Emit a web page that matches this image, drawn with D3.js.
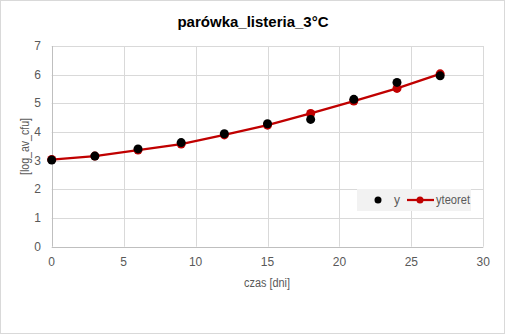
<!DOCTYPE html>
<html lang="en">
<head>
<meta charset="UTF-8">
<title>parówka_listeria_3°C</title>
<script src="https://d3js.org/d3.v7.min.js"></script>
<style>
  body { margin: 0; background: #fff; }
  .tick-label { font: 12px "Liberation Sans Narrow", "Arial Narrow", "Liberation Sans", sans-serif; fill: #595959; }
  .axis-title { font: 12px "Liberation Sans Narrow", "Arial Narrow", "Liberation Sans", sans-serif; fill: #595959; }
</style>
</head>
<body>
<script>
  // data
  const days = [0, 3, 6, 9, 12, 15, 18, 21, 24, 27];
  const yObs = [3.02, 3.16, 3.41, 3.63, 3.94, 4.29, 4.44, 5.14, 5.73, 5.96];
  const yTeoret = [3.04, 3.16, 3.37, 3.58, 3.90, 4.24, 4.65, 5.08, 5.52, 6.03];
  const xTicks = [0, 5, 10, 15, 20, 25, 30];
  const yTicks = [0, 1, 2, 3, 4, 5, 6, 7];

  const W = 505, H = 334;
  const svg = d3.select("body").append("svg")
    .attr("width", W).attr("height", H);

  // outer frame
  svg.append("rect")
    .attr("x", 0.5).attr("y", 0.5)
    .attr("width", W - 1).attr("height", H - 1)
    .attr("fill", "#fff").attr("stroke", "#d9d9d9");

  const x = d3.scaleLinear().domain([0, 30]).range([51.7, 483.3]);
  const y = d3.scaleLinear().domain([0, 7]).range([246.7, 46]);

  // title
  svg.append("text")
    .attr("x", 253).attr("y", 27)
    .attr("text-anchor", "middle")
    .style("font", "bold 15px 'Liberation Sans', Arial, sans-serif")
    .attr("fill", "#000")
    .text("parówka_listeria_3°C");

  // grid
  const grid = svg.append("g");
  grid.selectAll(".hg").data(yTicks).join("line")
    .attr("x1", x(0)).attr("x2", x(30))
    .attr("y1", d => Math.round(y(d)) + 0.5).attr("y2", d => Math.round(y(d)) + 0.5)
    .attr("stroke", d => d === 0 ? "#bfbfbf" : "#d9d9d9");
  grid.selectAll(".vg").data(xTicks).join("line")
    .attr("x1", d => Math.round(x(d)) + 0.5).attr("x2", d => Math.round(x(d)) + 0.5)
    .attr("y1", y(7)).attr("y2", y(0))
    .attr("stroke", d => d === 0 ? "#bfbfbf" : "#d9d9d9");

  // tick labels
  svg.selectAll(".yl").data(yTicks).join("text")
    .attr("class", "tick-label")
    .attr("x", 41).attr("y", d => y(d) + 4)
    .attr("text-anchor", "end")
    .text(d => d);
  svg.selectAll(".xl").data(xTicks).join("text")
    .attr("class", "tick-label")
    .attr("x", d => x(d)).attr("y", 266)
    .attr("text-anchor", "middle")
    .text(d => d);

  // axis titles
  svg.append("text").attr("class", "axis-title")
    .attr("x", 244).attr("y", 287)
    .attr("textLength", 46).attr("lengthAdjust", "spacingAndGlyphs")
    .text("czas  [dni]");
  svg.append("text").attr("class", "axis-title")
    .attr("transform", "translate(29,175) rotate(-90)")
    .attr("textLength", 57).attr("lengthAdjust", "spacingAndGlyphs")
    .text("[log_av_cfu]");

  // theoretical line
  const pts = days.map((d, i) => [d, yTeoret[i]]);
  svg.append("path")
    .datum(pts)
    .attr("fill", "none")
    .attr("stroke", "#c00000")
    .attr("stroke-width", 2.25)
    .attr("d", d3.line().x(d => x(d[0])).y(d => y(d[1])));
  svg.selectAll(".rt").data(pts).join("circle")
    .attr("cx", d => x(d[0])).attr("cy", d => y(d[1]))
    .attr("r", 4.5).attr("fill", "#c00000");

  // observed points
  svg.selectAll(".ob").data(days.map((d, i) => [d, yObs[i]])).join("circle")
    .attr("cx", d => x(d[0])).attr("cy", d => y(d[1]))
    .attr("r", 4.5).attr("fill", "#000");

  // legend
  const lg = svg.append("g");
  lg.append("rect")
    .attr("x", 357).attr("y", 189).attr("width", 114).attr("height", 22)
    .attr("fill", "#f2f2f2");
  lg.append("circle").attr("cx", 378).attr("cy", 200).attr("r", 3.5).attr("fill", "#000");
  lg.append("text").attr("class", "tick-label").attr("x", 394).attr("y", 204).text("y");
  lg.append("line").attr("x1", 407).attr("x2", 434).attr("y1", 200).attr("y2", 200)
    .attr("stroke", "#c00000").attr("stroke-width", 2.25);
  lg.append("circle").attr("cx", 420).attr("cy", 200).attr("r", 3.5).attr("fill", "#c00000");
  lg.append("text").attr("class", "tick-label").attr("x", 436).attr("y", 204)
    .attr("textLength", 34).attr("lengthAdjust", "spacingAndGlyphs").text("yteoret");
</script>
</body>
</html>
